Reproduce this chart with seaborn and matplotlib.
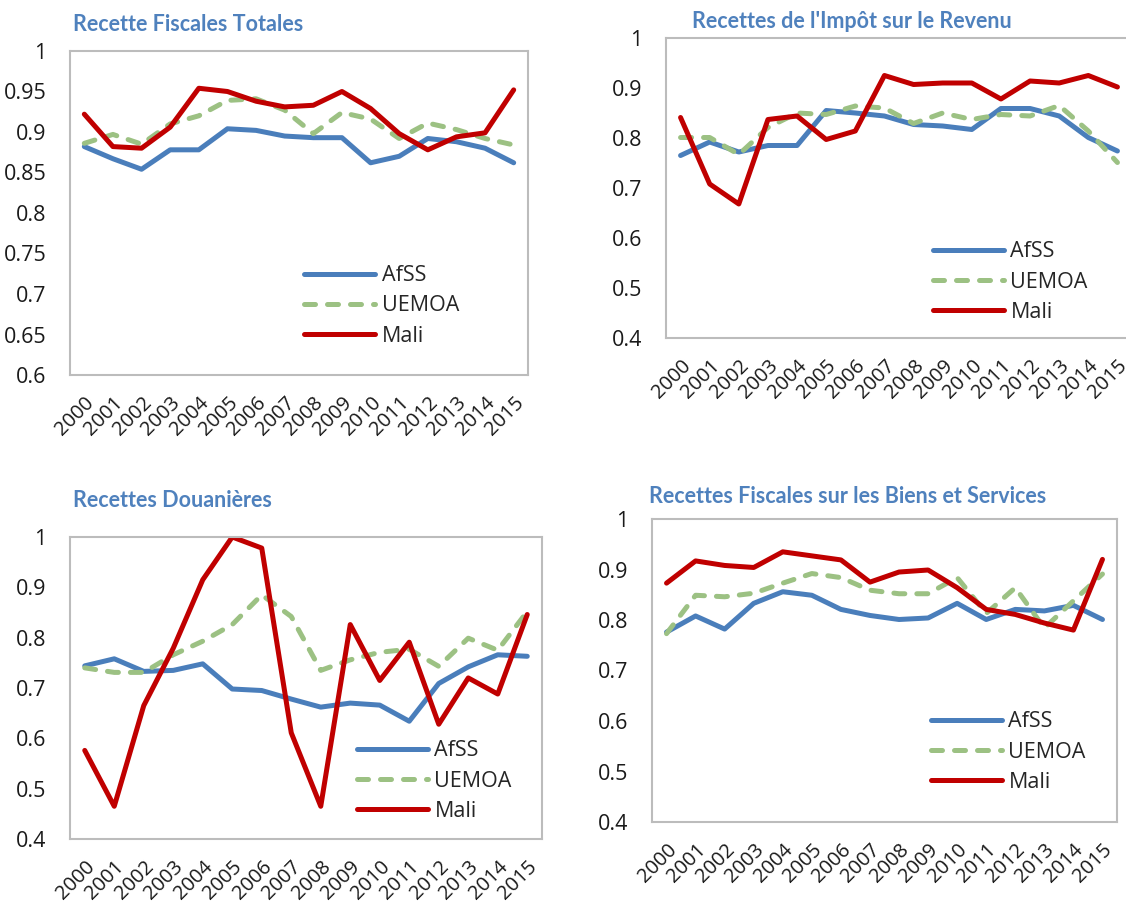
import numpy as np
import pandas as pd
import matplotlib
matplotlib.use("Agg")
import matplotlib.pyplot as plt
import matplotlib.ticker as mticker
import seaborn as sns

# ── Data ───────────────────────────────────────────────────────────────────
YEARS = ["2000", "2001", "2002", "2003", "2004", "2005", "2006", "2007",
         "2008", "2009", "2010", "2011", "2012", "2013", "2014", "2015"]
SERIES = ["AfSS", "UEMOA", "Mali"]

# Recette Fiscales Totales
tot_afss  = [0.882, 0.867, 0.854, 0.878, 0.878, 0.904, 0.902, 0.895,
             0.893, 0.893, 0.862, 0.870, 0.892, 0.888, 0.880, 0.862]
tot_uemoa = [0.886, 0.897, 0.885, 0.910, 0.920, 0.939, 0.941, 0.927,
             0.898, 0.924, 0.916, 0.892, 0.911, 0.903, 0.892, 0.884]
tot_mali  = [0.922, 0.882, 0.880, 0.906, 0.954, 0.950, 0.938, 0.931,
             0.933, 0.950, 0.929, 0.898, 0.878, 0.894, 0.899, 0.952]

# Recettes de l'Impôt sur le Revenu
rev_afss  = [0.765, 0.792, 0.772, 0.785, 0.785, 0.855, 0.850, 0.844,
             0.827, 0.824, 0.817, 0.859, 0.859, 0.844, 0.801, 0.774]
rev_uemoa = [0.801, 0.801, 0.767, 0.821, 0.850, 0.847, 0.864, 0.860,
             0.829, 0.850, 0.837, 0.847, 0.844, 0.865, 0.814, 0.751]
rev_mali  = [0.841, 0.708, 0.668, 0.837, 0.844, 0.797, 0.814, 0.925,
             0.907, 0.910, 0.910, 0.878, 0.914, 0.910, 0.925, 0.902]

# Recettes Douanières
dou_afss  = [0.744, 0.758, 0.733, 0.735, 0.748, 0.698, 0.695, 0.678,
             0.662, 0.670, 0.666, 0.634, 0.709, 0.742, 0.766, 0.763]
dou_uemoa = [0.740, 0.731, 0.731, 0.766, 0.793, 0.826, 0.885, 0.842,
             0.735, 0.756, 0.771, 0.777, 0.743, 0.799, 0.775, 0.852]
dou_mali  = [0.576, 0.465, 0.665, 0.779, 0.915, 1.000, 0.978, 0.611,
             0.465, 0.826, 0.715, 0.791, 0.628, 0.720, 0.688, 0.846]

# Recettes Fiscales sur les Biens et Services
bs_afss   = [0.776, 0.808, 0.782, 0.833, 0.856, 0.849, 0.821, 0.809,
             0.801, 0.804, 0.833, 0.801, 0.821, 0.818, 0.829, 0.801]
bs_uemoa  = [0.773, 0.849, 0.846, 0.853, 0.873, 0.892, 0.884, 0.859,
             0.852, 0.852, 0.884, 0.813, 0.864, 0.784, 0.838, 0.891]
bs_mali   = [0.873, 0.917, 0.908, 0.904, 0.935, 0.927, 0.919, 0.875,
             0.895, 0.899, 0.864, 0.821, 0.811, 0.794, 0.780, 0.920]

TICKS_TOT = [0.6, 0.65, 0.7, 0.75, 0.8, 0.85, 0.9, 0.95, 1.0]
TICKS_OTH = [0.4, 0.5, 0.6, 0.7, 0.8, 0.9, 1.0]

# ── Style ──────────────────────────────────────────────────────────────────
sns.set_style("white")
plt.rcParams["font.family"] = ["Open Sans", "DejaVu Sans"]

BLUE  = "#4a7ebb"
GREEN = "#9cc183"
RED   = "#c00000"
TITLE = "#4f81bd"
SPINE = "#bcbcbc"
PALETTE = {"AfSS": BLUE, "UEMOA": GREEN, "Mali": RED}
DASHES  = {"AfSS": "", "UEMOA": (2.2, 2.4), "Mali": ""}
FS = 15.5

W, H = 1126, 905


def px_rect(left, top, right, bottom):
    return [left / W, 1 - bottom / H, (right - left) / W, (bottom - top) / H]


def panel(fig, rect, afss, uemoa, mali, yticks, title, title_xy, leg_xy):
    ax = fig.add_axes(px_rect(*rect))
    df = pd.DataFrame({
        "annee": YEARS * 3,
        "val": afss + uemoa + mali,
        "serie": np.repeat(SERIES, len(YEARS)),
    })
    sns.lineplot(data=df, x="annee", y="val", hue="serie", style="serie",
                 palette=PALETTE, dashes=DASHES, hue_order=SERIES,
                 style_order=SERIES, lw=3.6, ax=ax, legend=False,
                 solid_capstyle="round", dash_capstyle="round")
    ax.set_xlim(-0.5, len(YEARS) - 0.5)
    ax.set_ylim(yticks[0], yticks[-1])
    ax.set_xlabel("")
    ax.set_ylabel("")

    ax.set_yticks(yticks)
    ax.yaxis.set_major_formatter(mticker.FuncFormatter(lambda v, p: f"{v:g}"))
    ax.set_xticks(range(len(YEARS)))
    ax.set_xticklabels(YEARS, rotation=45, ha="right", rotation_mode="anchor")
    ax.set_xticks(np.arange(0.5, len(YEARS) - 1, 1.0), minor=True)

    ax.tick_params(axis="y", direction="in", length=5, width=1.3,
                   color=SPINE, labelsize=FS, pad=17, labelcolor="#1a1a1a")
    ax.tick_params(axis="x", which="major", length=0, labelsize=14.5,
                   pad=13, labelcolor="#1a1a1a")
    ax.tick_params(axis="x", which="minor", direction="in", length=5,
                   width=1.3, color=SPINE)
    for s in ax.spines.values():
        s.set_color(SPINE)
        s.set_linewidth(1.5)
        s.set_visible(True)

    lines = ax.get_lines()[:3]
    ax.legend(lines, SERIES, loc="center left", frameon=False,
              bbox_to_anchor=(leg_xy[0] / W, 1 - leg_xy[1] / H),
              bbox_transform=fig.transFigure, borderpad=0, borderaxespad=0,
              handlelength=3.3, handletextpad=0.3, labelspacing=0.42,
              fontsize=FS)

    fig.text(title_xy[0] / W, 1 - title_xy[1] / H, title, color=TITLE,
             fontsize=15.5, fontweight="bold", family=["Lato", "DejaVu Sans"],
             ha="left", va="baseline")
    return ax


fig = plt.figure(figsize=(W / 100, H / 100), dpi=100)

panel(fig, (70, 51, 528, 375), tot_afss, tot_uemoa, tot_mali, TICKS_TOT,
      "Recette Fiscales Totales", (73, 31), (304, 306))
panel(fig, (666, 38, 1132, 338), rev_afss, rev_uemoa, rev_mali, TICKS_OTH,
      "Recettes de l'Impôt sur le Revenu", (692, 28), (933, 282))
panel(fig, (70, 537, 542, 839), dou_afss, dou_uemoa, dou_mali, TICKS_OTH,
      "Recettes Douanières", (73, 507), (357, 781))
panel(fig, (652, 519, 1117, 822), bs_afss, bs_uemoa, bs_mali, TICKS_OTH,
      "Recettes Fiscales sur les Biens et Services", (649, 503), (931, 752))

fig.savefig("out.png", dpi=100, facecolor="white")
